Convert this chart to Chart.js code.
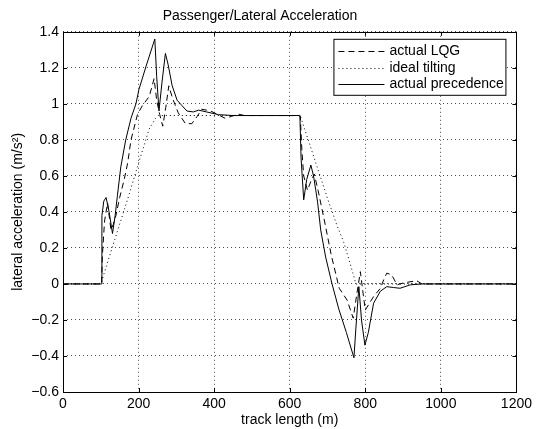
<!DOCTYPE html>
<html>
<head>
<meta charset="utf-8">
<script src="https://cdn.jsdelivr.net/npm/chart.js@4/dist/chart.umd.min.js"></script>
<style>
  html, body { margin: 0; padding: 0; background: #fff; }
</style>
</head>
<body>
<canvas id="graficoAceleracao" width="536" height="429"></canvas>
<script>
// valores (comprimento da via em m, aceleração em m/s²)
const lqgX = [0, 100, 102, 104, 110, 118, 122, 127, 133, 140, 150, 162, 171, 180, 197, 210, 228, 236, 241, 248, 256, 264, 272, 280, 290, 305, 324, 341, 355, 367, 380, 394, 410, 429, 445, 464, 480, 625, 628, 632, 637, 647, 656, 665, 675, 691, 710, 731, 752, 768, 778, 787, 794, 800, 810, 822, 840, 850, 857, 870, 884, 900, 936, 950, 1200];
const lqgY = [0, 0, 0, 0.15, 0.35, 0.45, 0.38, 0.30, 0.33, 0.38, 0.48, 0.58, 0.67, 0.80, 0.94, 0.99, 1.04, 1.10, 1.14, 1.02, 0.94, 0.876, 0.98, 1.10, 1.03, 0.95, 0.89, 0.89, 0.93, 0.97, 0.965, 0.957, 0.94, 0.92, 0.93, 0.943, 0.935, 0.935, 0.93, 0.75, 0.60, 0.52, 0.57, 0.61, 0.52, 0.36, 0.16, -0.024, -0.09, -0.19, -0.05, 0.068, -0.05, -0.145, -0.11, -0.07, -0.024, 0.03, 0.06, 0.05, -0.005, 0.005, 0.018, 0, 0];

const idealX = [0, 100, 109, 136, 171, 197, 228, 245, 252, 628, 630, 704, 726, 744, 770, 775, 1200];
const idealY = [0, 0, 0.06, 0.24, 0.47, 0.65, 0.86, 0.92, 0.935, 0.935, 0.92, 0.45, 0.32, 0.226, 0.04, 0, 0];

const precX = [0, 100, 102, 103, 108, 114, 122, 131, 138, 144, 153, 166, 180, 193, 201, 220, 243, 248, 254, 262, 271, 278, 289, 302, 315, 328, 345, 359, 380, 411, 450, 625, 627, 630, 637, 645, 656, 663, 669, 674, 682, 695, 712, 730, 750, 770, 775, 783, 790, 799, 808, 822, 840, 857, 875, 892, 919, 950, 1200];
const precY = [0, 0, 0, 0.38, 0.46, 0.48, 0.40, 0.28, 0.38, 0.49, 0.65, 0.80, 0.92, 1.00, 1.08, 1.21, 1.36, 1.15, 0.96, 1.12, 1.28, 1.22, 1.10, 1.02, 0.99, 0.96, 0.955, 0.965, 0.955, 0.94, 0.935, 0.935, 0.93, 0.70, 0.467, 0.58, 0.66, 0.60, 0.52, 0.45, 0.30, 0.15, 0, -0.14, -0.27, -0.41, -0.25, -0.015, -0.2, -0.34, -0.27, -0.107, -0.04, -0.015, -0.02, -0.024, -0.005, 0, 0];

const nomesSeries = ["actual LQG", "ideal tilting", "actual precedence"];
const xTicks = [0, 200, 400, 600, 800, 1000, 1200];
const yTicks = [-0.6, -0.4, -0.2, 0, 0.2, 0.4, 0.6, 0.8, 1, 1.2, 1.4];

// junta os arrays x e y em pontos {x, y}
function montaPontos(xs, ys) {
  return xs.map((x, i) => ({ x: x, y: ys[i] }));
}

Chart.defaults.font.family = "'Liberation Sans', Arial, Helvetica, sans-serif";
Chart.defaults.font.size = 14;
Chart.defaults.color = "#000";

// moldura, marcas internas (estilo MATLAB) e legenda dentro do gráfico
const molduraPlugin = {
  id: "moldura",
  afterDatasetsDraw(chart) {
    const ctx = chart.ctx;
    const a = chart.chartArea;
    const sx = chart.scales.x;
    const sy = chart.scales.y;
    ctx.save();
    ctx.strokeStyle = "#000";
    ctx.lineWidth = 1;
    ctx.setLineDash([]);
    ctx.beginPath();
    xTicks.forEach((v) => {
      const px = Math.round(sx.getPixelForValue(v)) + 0.5;
      ctx.moveTo(px, a.bottom); ctx.lineTo(px, a.bottom - 4);
      ctx.moveTo(px, a.top); ctx.lineTo(px, a.top + 4);
    });
    yTicks.forEach((v) => {
      const py = Math.round(sy.getPixelForValue(v)) + 0.5;
      ctx.moveTo(a.left, py); ctx.lineTo(a.left + 4, py);
      ctx.moveTo(a.right, py); ctx.lineTo(a.right - 4, py);
    });
    ctx.stroke();
    ctx.strokeRect(Math.round(a.left) + 0.5, Math.round(a.top) + 0.5, Math.round(a.right - a.left), Math.round(a.bottom - a.top));

    // legenda
    const lx0 = a.right - 183, ly0 = a.top + 7, lw = 172, lh = 56;
    ctx.fillStyle = "#fff";
    ctx.fillRect(lx0, ly0, lw, lh);
    ctx.strokeRect(lx0 + 0.5, ly0 + 0.5, lw, lh);
    ctx.font = "14px 'Liberation Sans', Arial, sans-serif";
    ctx.textBaseline = "middle";
    ctx.textAlign = "left";
    ctx.fillStyle = "#000";
    chart.data.datasets.forEach((ds, i) => {
      const y = Math.round(ly0 + 12.5 + i * 16.5) + 0.5;
      ctx.setLineDash(ds.borderDash || []);
      ctx.beginPath();
      ctx.moveTo(lx0 + 5, y);
      ctx.lineTo(lx0 + 51, y);
      ctx.stroke();
      ctx.fillText(ds.label, lx0 + 56, y);
    });
    ctx.restore();
  }
};

const graficoAceleracao = new Chart(document.getElementById("graficoAceleracao"), {
  type: "scatter",
  data: {
    datasets: [{
      label: nomesSeries[0],
      data: montaPontos(lqgX, lqgY),
      showLine: true,
      borderColor: "#000",
      borderWidth: 1,
      borderDash: [6, 4],
      pointRadius: 0
    }, {
      label: nomesSeries[1],
      data: montaPontos(idealX, idealY),
      showLine: true,
      borderColor: "#000",
      borderWidth: 1,
      borderDash: [1, 3],
      pointRadius: 0
    }, {
      label: nomesSeries[2],
      data: montaPontos(precX, precY),
      showLine: true,
      borderColor: "#000",
      borderWidth: 1,
      pointRadius: 0
    }]
  },
  options: {
    responsive: false,
    animation: false,
    devicePixelRatio: 1,
    layout: { padding: { left: 0, right: 16, top: 0, bottom: 0 } },
    plugins: {
      legend: { display: false },
      tooltip: { enabled: false },
      title: {
        display: true,
        text: "Passenger/Lateral Acceleration",
        font: { size: 14, weight: "normal" },
        color: "#000",
        padding: { top: 8, bottom: 7 }
      }
    },
    scales: {
      x: {
        type: "linear",
        min: 0,
        max: 1200,
        afterFit: (s) => { s.height = 37; },
        afterBuildTicks: (s) => { s.ticks = xTicks.map((v) => ({ value: v })); },
        ticks: { padding: 4, maxRotation: 0, color: "#000", callback: (v) => String(v) },
        grid: { color: "rgba(0,0,0,0.7)", lineWidth: 1, drawTicks: false },
        border: { display: false, dash: [1, 3] },
        title: { display: true, text: "track length (m)", color: "#000", padding: { top: 0, bottom: 0 } }
      },
      y: {
        type: "linear",
        min: -0.6,
        max: 1.4,
        afterFit: (s) => { s.width = 63; },
        afterBuildTicks: (s) => { s.ticks = yTicks.map((v) => ({ value: v })); },
        ticks: {
          padding: 4,
          color: "#000",
          callback: (v) => String(Math.round(v * 10) / 10).replace("-", "\u2212")
        },
        grid: { color: "rgba(0,0,0,0.7)", lineWidth: 1, drawTicks: false },
        border: { display: false, dash: [1, 3] },
        title: { display: true, text: "lateral acceleration (m/s²)", color: "#000", padding: { top: 10, bottom: 0 } }
      }
    }
  },
  plugins: [molduraPlugin]
});
</script>
</body>
</html>
